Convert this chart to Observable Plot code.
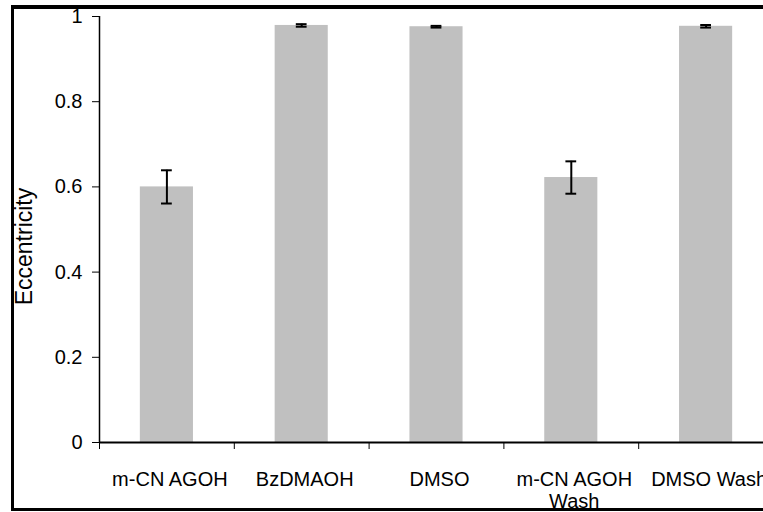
<!DOCTYPE html>
<html>
<head>
<meta charset="utf-8">
<script src="https://cdn.jsdelivr.net/npm/d3@7"></script>
<script src="https://cdn.jsdelivr.net/npm/@observablehq/plot@0.6"></script>
<style>
  html, body { margin: 0; padding: 0; background: white; overflow: hidden; width: 763px; height: 512px; }
  #wrap { position: relative; width: 763px; height: 512px; overflow: hidden; }
  #frame { position: absolute; left: 11px; top: 5px; width: 800px; height: 506px; box-sizing: border-box;
           border-left: 3px solid #000; border-top: 4px solid #000; border-bottom: 3px solid #000; pointer-events: none; }
  #wrap svg { overflow: hidden; }
</style>
</head>
<body>
<div id="wrap"><div id="frame"></div></div>
<script>
const categories = ["m-CN AGOH", "BzDMAOH", "DMSO", "m-CN AGOH\nWash", "DMSO Wash"];
const means = [0.600, 0.979, 0.976, 0.622, 0.977];
const errors = [0.039, 0.003, 0.002, 0.038, 0.003];
const yTicks = [0, 0.2, 0.4, 0.6, 0.8, 1];
const yLabel = "Eccentricity";

const data = categories.map((c, i) => ({i, c, v: means[i], lo: means[i] - errors[i], hi: means[i] + errors[i]}));
const boundaries = d3.range(categories.length + 1);

const chart = Plot.plot({
  width: 763,
  height: 512,
  marginLeft: 99,
  marginRight: -10,
  marginTop: 16,
  marginBottom: 70,
  style: {fontFamily: "'Liberation Sans', Arial, sans-serif", fontSize: "20px", color: "#000", background: "white"},
  x: {domain: [0, categories.length], ticks: boundaries, tickFormat: () => "", tickSize: 7, label: null},
  y: {domain: [0, 1], ticks: yTicks, tickFormat: d => String(d), tickSize: 7, tickPadding: 10, label: null},
  marks: [
    Plot.rectY(data, {x1: d => d.i + 0.303, x2: d => d.i + 0.697, y1: 0, y2: "v", fill: "#c0c0c0"}),
    Plot.ruleX(data, {x: d => d.i + 0.5, y1: "lo", y2: "hi", stroke: "#000", strokeWidth: 2}),
    Plot.ruleY(data, {y: "hi", x1: d => d.i + 0.46, x2: d => d.i + 0.54, stroke: "#000", strokeWidth: 2}),
    Plot.ruleY(data, {y: "lo", x1: d => d.i + 0.46, x2: d => d.i + 0.54, stroke: "#000", strokeWidth: 2}),
    Plot.ruleX([0], {stroke: "#000", strokeWidth: 1.5}),
    Plot.ruleY([0], {stroke: "#000", strokeWidth: 2}),
    Plot.text(data, {x: d => d.i + 0.5, y: 0, text: "c", dy: 28, dx: 3, lineAnchor: "top", lineHeight: 1.1, fill: "#000"}),
    Plot.text([yLabel], {x: 0, y: 0.46, text: d => d, rotate: -90, dx: -75, fontSize: 23, textAnchor: "middle", lineAnchor: "middle", fill: "#000"})
  ]
});
document.getElementById("wrap").insertBefore(chart, document.getElementById("frame"));
</script>
</body>
</html>
